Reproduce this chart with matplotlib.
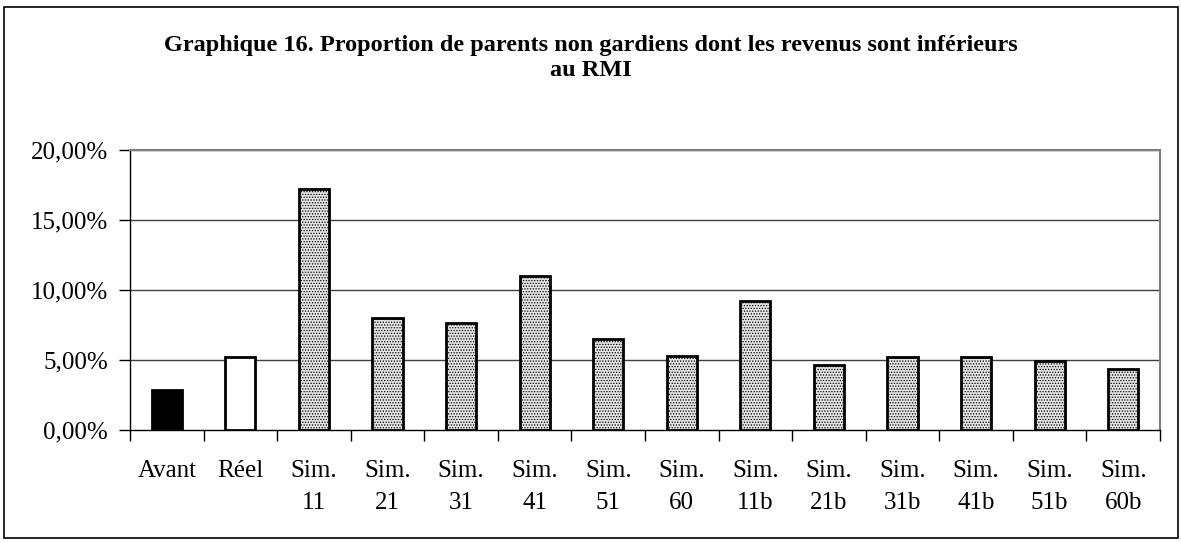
import matplotlib.pyplot as plt
from matplotlib.patches import Rectangle
from matplotlib.ticker import FixedLocator, FuncFormatter

# données
categories = ['Avant', 'Réel', 'Sim.\n11', 'Sim.\n21', 'Sim.\n31', 'Sim.\n41', 'Sim.\n51',
              'Sim.\n60', 'Sim.\n11b', 'Sim.\n21b', 'Sim.\n31b', 'Sim.\n41b', 'Sim.\n51b', 'Sim.\n60b']
valeurs = [2.8, 5.2, 17.2, 7.95, 7.65, 11.0, 6.45, 5.25, 9.2, 4.6, 5.2, 5.2, 4.9, 4.3]
yticks = [0, 5, 10, 15, 20]

plt.rcParams['font.family'] = ['Liberation Serif', 'DejaVu Serif']
plt.rcParams['hatch.color'] = '#9a9a9a'
plt.rcParams['hatch.linewidth'] = 0.6

fig = plt.figure(figsize=(11.81, 5.43), dpi=100)
ax = fig.add_axes([130 / 1181, 1 - 429.5 / 543, 1030 / 1181, 279.5 / 543])

x = list(range(len(categories)))
couleurs = ['black', 'white'] + ['#e4e4e4'] * (len(categories) - 2)
hachures = [None, None] + ['......'] * (len(categories) - 2)
barres = ax.bar(x, valeurs, width=0.41, color=couleurs, edgecolor='black', linewidth=2, zorder=3)
for b, h in zip(barres, hachures):
    if h:
        b.set_hatch(h)

ax.set_ylim(0, 20)
ax.set_xlim(-0.5, len(categories) - 0.5)
ax.set_yticks(yticks)
ax.yaxis.set_major_formatter(FuncFormatter(lambda v, p: ('%.2f' % v).replace('.', ',') + '%'))
for t in yticks[1:]:
    ax.axhline(t, color='#404040', linewidth=1, zorder=1)

ax.xaxis.set_major_locator(FixedLocator([i - 0.5 for i in range(len(categories) + 1)]))
ax.xaxis.set_major_formatter(FuncFormatter(lambda v, p: ''))
ax.xaxis.set_minor_locator(FixedLocator(x))
ax.set_xticklabels(categories, minor=True, linespacing=1.6)
ax.tick_params(axis='x', which='minor', length=0, pad=22, labelsize=18)
ax.tick_params(axis='x', which='major', length=8, width=1, direction='out')
ax.tick_params(axis='y', length=8, width=1, direction='out', pad=8, labelsize=18)

for s in ['top', 'right']:
    ax.spines[s].set_color('#808080')
    ax.spines[s].set_linewidth(1.5)
ax.spines['left'].set_linewidth(1)
ax.spines['bottom'].set_linewidth(1)

fig.text(591 / 1181, 1 - 58 / 543, 'Graphique 16. Proportion de parents non gardiens dont les revenus sont inférieurs\nau RMI',
         ha='center', va='center', fontsize=17.5, fontweight='bold', linespacing=1.25)

fig.patches.append(Rectangle((4 / 1181, 1 - 538 / 543), 1174 / 1181, 531 / 543, transform=fig.transFigure,
                             fill=False, edgecolor='black', linewidth=1.2))

plt.savefig('out.png', dpi=100)
